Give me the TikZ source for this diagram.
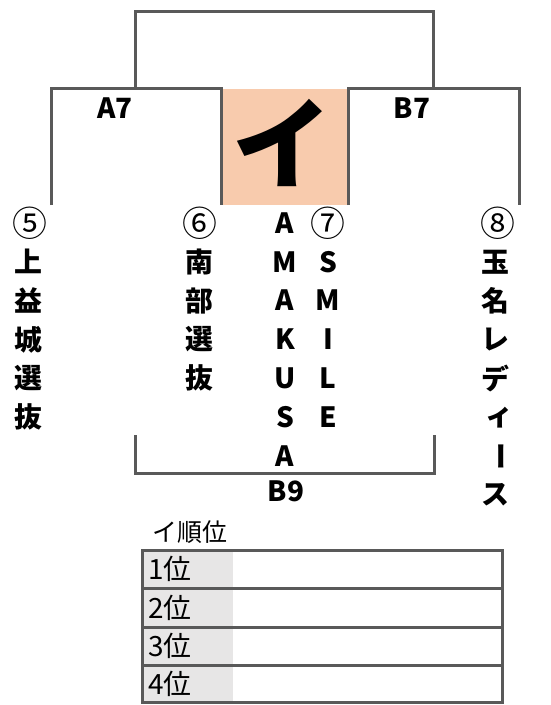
\documentclass[tikz,border=0pt]{standalone}
\usepackage{fontspec}
\setmainfont{Noto Sans CJK JP}
\definecolor{lc}{HTML}{595959}
\definecolor{orng}{HTML}{F8CBAD}
\definecolor{gry}{HTML}{E7E6E6}
\begin{document}
\begin{tikzpicture}[x=1bp,y=-1bp,
  line/.style={draw=lc,line width=3bp},
  lbl/.style={font=\bfseries\fontsize{28}{28}\selectfont,inner sep=0pt},
  vt/.style={font=\bfseries\fontsize{28}{28}\selectfont,inner sep=0pt},
  circ/.style={font=\fontsize{35}{35}\selectfont,inner sep=0pt},
  big/.style={font=\bfseries\fontsize{100}{100}\selectfont,inner sep=0pt},
  ttl/.style={font=\fontsize{25}{25}\selectfont,inner sep=0pt,anchor=west},
  tbl/.style={font=\fontsize{28}{28}\selectfont,inner sep=0pt,anchor=west}]
\useasboundingbox (0,0) rectangle (551,705);
% highlighted box
\fill[orng] (221,89) rectangle (348,205);
% brackets
\coordinate (l1) at (51,205); \coordinate (l2) at (221,205);
\coordinate (r1) at (348,205); \coordinate (r2) at (519,205);
\coordinate (lm) at (135,89); \coordinate (rm) at (433,89);
\draw[line] (l1) -- (51,89) -- (221,89) -- (l2);
\draw[line] (r1) -- (348,89) -- (519,89) -- (r2);
\draw[line] (lm) -- (135,12) -- (433,12) -- (rm);
\coordinate (b1) at (135,435); \coordinate (b2) at (434,435);
\draw[line] (b1) -- (135,473) -- (434,473) -- (b2);
% labels
\node[lbl] (a7) at (115,108) {A7};
\node[lbl] (b7) at (412,108) {B7};
\node[big] (i) at (282,143) {イ};
\node[lbl] (b9) at (286,491) {B9};
% circled numbers
\node[circ] (n5) at (30,223) {⑤};
\node[circ] (n6) at (200,223) {⑥};
\node[circ] (n7) at (328,223) {⑦};
\node[circ] (n8) at (498,223) {⑧};
% vertical names
\foreach \c [count=\k] in {上,益,城,選,抜}
  \node[vt] (t5-\k) at (28,223+38.8*\k) {\c};
\foreach \c [count=\k] in {南,部,選,抜}
  \node[vt] (t6-\k) at (199,223+38.8*\k) {\c};
\foreach \c [count=\k] in {A,M,A,K,U,S,A}
  \node[vt] (t7a-\k) at (285,184.2+38.8*\k) {\c};
\foreach \c [count=\k] in {S,M,I,L,E}
  \node[vt] (t7b-\k) at (328,223+38.8*\k) {\c};
\foreach \c [count=\k] in {玉,名,レ,デ}
  \node[vt] (t8-\k) at (495,223+38.8*\k) {\c};
\node[vt] (t8-5) at (499,418) {ィ};
\node[vt,rotate=-90] (t8-6) at (497,456) {ー};
\node[vt] (t8-7) at (495,495) {ス};
% ranking table
\node[ttl] (rt) at (152,532) {イ順位};
\fill[gry] (142,550) rectangle (233,702);
\foreach \ya/\yb/\r in {550/588/1,588/627/2,627/665/3,665/702/4}{
  \draw[line] (142,\ya) rectangle (502,\yb);
  \node[tbl] (rk\r) at (148,{(\ya+\yb)/2}) {\r 位};
}
\end{tikzpicture}
\end{document}
